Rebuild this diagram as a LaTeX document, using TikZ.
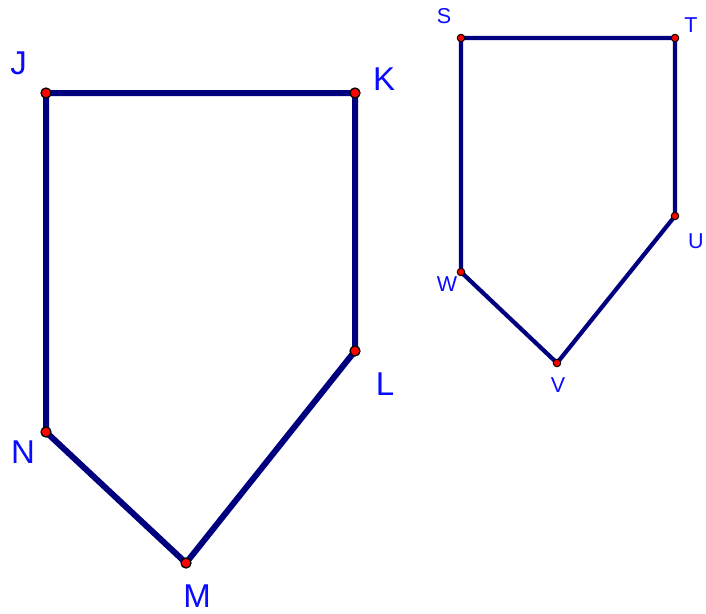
\documentclass[tikz,border=0pt]{standalone}
\usepackage{fontspec}
\setmainfont{Liberation Sans}
\begin{document}
\begin{tikzpicture}[x=1pt,y=-1pt,
  bigedge/.style={draw=navyline,line width=6pt,line join=round,line cap=round},
  smalledge/.style={draw=navyline,line width=4.2pt,line join=round,line cap=round},
  bigdot/.style={circle,fill=red,draw=black,line width=1.3pt,inner sep=0pt,minimum size=10pt},
  smalldot/.style={circle,fill=red,draw=black,line width=1pt,inner sep=0pt,minimum size=7.5pt},
  biglab/.style={text=labblue,font=\fontsize{33}{33}\selectfont,inner sep=0pt},
  smalllab/.style={text=labblue,font=\fontsize{21.5}{21.5}\selectfont,inner sep=0pt}]
\definecolor{navyline}{HTML}{00007F}
\definecolor{labblue}{HTML}{0A0AFF}
\useasboundingbox (0,0) rectangle (706,613);
\fill[white] (0,0) rectangle (706,613);
% big pentagon
\coordinate (J) at (46,93);
\coordinate (K) at (355,93);
\coordinate (L) at (355,351);
\coordinate (M) at (186,563);
\coordinate (N) at (46,432);
\path[bigedge] (J) -- (K) -- (L) -- (M) -- (N) -- cycle;
\foreach \p in {J,K,L,M,N} \node[bigdot] (d\p) at (\p) {};
\node[biglab] (lJ) at (18.5,63) {J};
\node[biglab] (lK) at (384,79) {K};
\node[biglab] (lL) at (385,384) {L};
\node[biglab] (lM) at (197,596) {M};
\node[biglab] (lN) at (23,452) {N};
% small pentagon
\coordinate (S) at (461,38);
\coordinate (T) at (675,38);
\coordinate (U) at (675,216);
\coordinate (V) at (557,363);
\coordinate (W) at (461,272);
\path[smalledge] (S) -- (T) -- (U) -- (V) -- (W) -- cycle;
\foreach \p in {S,T,U,V,W} \node[smalldot] (d\p) at (\p) {};
\node[smalllab] (lS) at (444,16) {S};
\node[smalllab] (lT) at (691,25) {T};
\node[smalllab] (lU) at (696,241) {U};
\node[smalllab] (lV) at (558,385) {V};
\node[smalllab] (lW) at (447,284) {W};
\end{tikzpicture}
\end{document}
